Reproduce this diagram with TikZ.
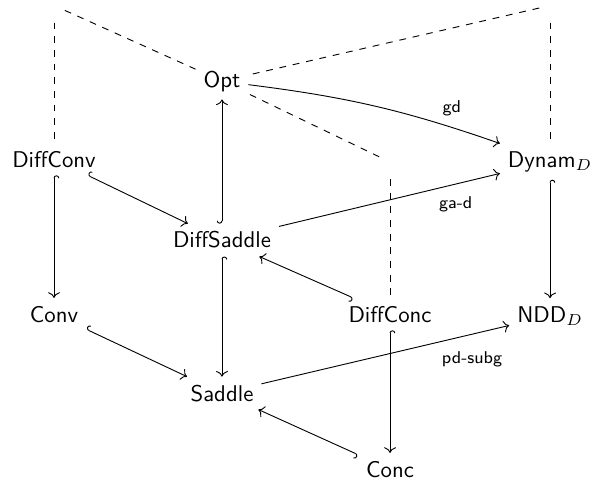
\documentclass[tikz,border=0pt]{standalone}
\usepackage{fontspec}
\usetikzlibrary{arrows.meta}

\tikzset{
    obj/.style={font=\sffamily, anchor=base},
    hole/.style={inner sep=0pt, minimum width=0.32cm, minimum height=0.51cm},
    hk/.style={{Hooks[right]}->},
    lbl/.style={font=\sffamily\fontsize{7.5}{9}\selectfont},
}

\begin{document}
\begin{tikzpicture}

\useasboundingbox (0, 0) rectangle (9.27, -7.404);

% ================================================================
%  Celdas — columnas 0.833 / 3.424 / 6.016 / 8.484
% ================================================================
\node[obj] (opt)   at (3.424, -1.342) {Opt};
\node[obj] (dconv) at (0.833, -2.576) {DiffConv};
\node[obj] (dyn)   at (8.484, -2.576) {Dynam$_D$};
\node[obj] (dsad)  at (3.424, -3.825) {DiffSaddle};
\node[obj] (conv)  at (0.833, -4.967) {Conv};
\node[obj] (dconc) at (6.016, -4.967) {DiffConc};
\node[obj] (ndd)   at (8.484, -4.967) {NDD$_D$};
\node[obj] (sad)   at (3.424, -6.185) {Saddle};
\node[obj] (conc)  at (6.016, -7.358) {Conc};

% Esquinas vacías del cubo
\node[hole] (tl)  at (0.833, -0.085) {};
\node[hole] (tr)  at (8.484, -0.085) {};
\node[hole] (mid) at (6.016, -2.499) {};

% Aristas ocultas
\draw[dashed] (tl) -- (opt);
\draw[dashed] (tl) -- (dconv);
\draw[dashed] (tr) -- (opt);
\draw[dashed] (tr) -- (dyn);
\draw[dashed] (mid) -- (opt);
\draw[dashed] (mid) -- (dconc);

% Inclusiones
\draw[hk] (dsad) -- (opt);
\draw[hk] (dconv) -- (dsad);
\draw[hk] (dconv) -- (conv);
\draw[hk] (dyn) -- (ndd);
\draw[hk] (dconc) -- (dsad);
\draw[hk] (dsad) -- (sad);
\draw[hk] (conv) -- (sad);
\draw[hk] (dconc) -- (conc);
\draw[hk] (conc) -- (sad);

% Flechas con etiqueta
\draw[->] (opt) to[bend left=6] node[lbl, above=1.5pt, pos=0.82] {gd} (dyn);
\draw[->] (dsad) -- node[lbl, below=2pt, pos=0.8] {ga-d} (dyn);
\draw[->] (sad) -- node[lbl, below=4pt, pos=0.85] {pd-subg} (ndd);

\end{tikzpicture}
\end{document}
